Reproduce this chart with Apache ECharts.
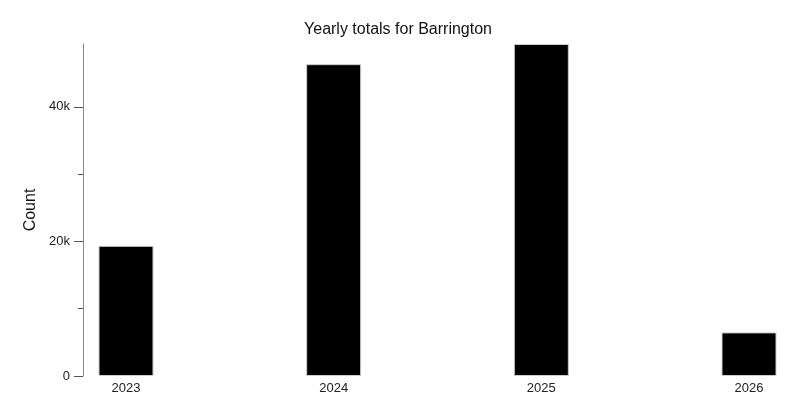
<!DOCTYPE html>
<html><head><meta charset="utf-8">
<script src="https://cdn.jsdelivr.net/npm/echarts@6/dist/echarts.min.js"></script>
<style>html,body{margin:0;padding:0;background:#fff}#c{width:796px;height:418px}</style>
</head><body><div id="c"></div>
<script>
const years = ['2023', '2024', '2025', '2026'];
const counts = [19350, 46350, 49350, 6480];
const majorTicks = [0, 20000, 40000];
const minorTicks = [10000, 30000];
const titleText = 'Yearly totals for Barrington';
const yName = 'Count';

const font = '"Liberation Sans", Arial, sans-serif';
const yMax = Math.max.apply(null, counts);
const chart = echarts.init(document.getElementById('c'), null, {renderer: 'canvas'});
const fmt = v => v === 0 ? '0' : (v / 1000) + 'k';
chart.setOption({
  animation: false,
  title: {text: titleText, left: 'center', top: 17,
    textStyle: {fontFamily: font, fontSize: 16, fontWeight: 'normal', color: '#111'}},
  grid: {left: 126, right: 47, top: 44, bottom: 42, containLabel: false},
  xAxis: {type: 'category', data: years, boundaryGap: false,
    axisLine: {show: false}, axisTick: {show: false},
    axisLabel: {fontFamily: font, fontSize: 13, color: '#222', margin: 6},
    splitLine: {show: false}},
  yAxis: [
    {type: 'value', min: 0, max: yMax, offset: 43, position: 'left',
     name: yName, nameLocation: 'middle', nameGap: 44,
     nameTextStyle: {fontFamily: font, fontSize: 16, color: '#111'},
     axisLine: {show: true, lineStyle: {color: '#888', width: 1}},
     axisTick: {show: true, length: 9, customValues: majorTicks, lineStyle: {color: '#555'}},
     axisLabel: {customValues: majorTicks, formatter: fmt, fontFamily: font, fontSize: 13, color: '#222', margin: 13},
     splitLine: {show: false}},
    {type: 'value', min: 0, max: yMax, offset: 43, position: 'left',
     axisLine: {show: false},
     axisTick: {show: true, length: 5, customValues: minorTicks, lineStyle: {color: '#555'}},
     axisLabel: {show: false},
     splitLine: {show: false}}
  ],
  series: [{type: 'bar', data: counts, yAxisIndex: 0, barWidth: 55,
    itemStyle: {color: '#000', borderColor: '#ccc', borderWidth: 1}}]
});
</script></body></html>
